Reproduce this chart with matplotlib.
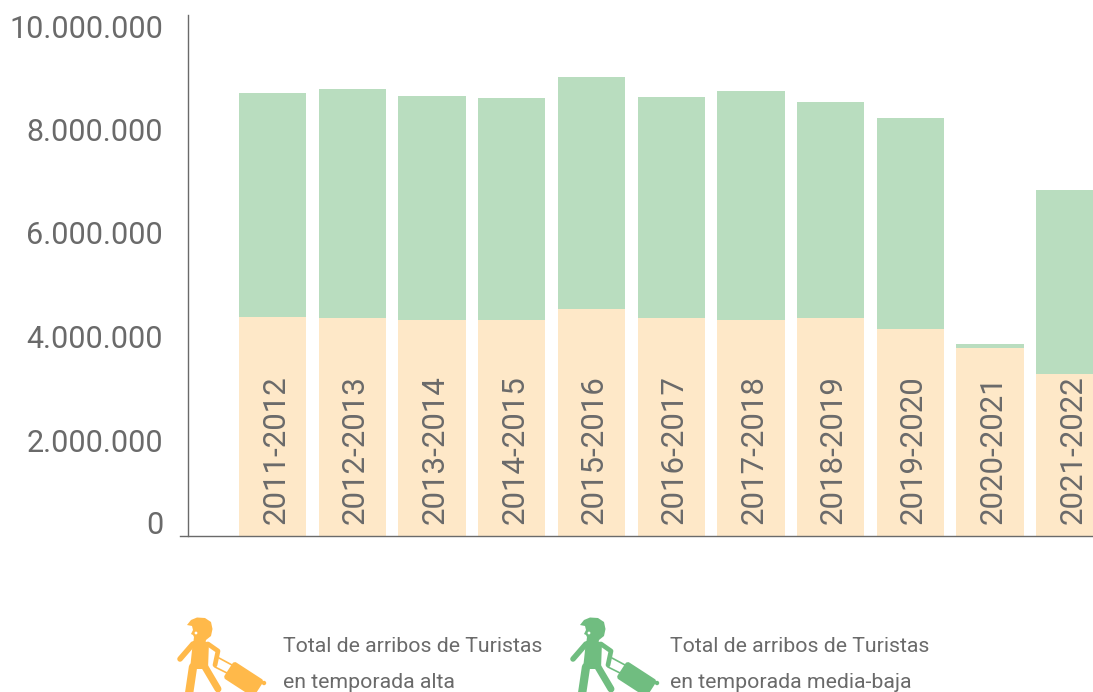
import matplotlib
matplotlib.use("Agg")
import matplotlib.pyplot as plt
from matplotlib.patches import Polygon, Circle, FancyBboxPatch
from matplotlib.transforms import offset_copy, Affine2D

plt.rcParams['font.family'] = ['Roboto', 'DejaVu Sans']

temporadas = ["2011-2012", "2012-2013", "2013-2014", "2014-2015", "2015-2016", "2016-2017",
              "2017-2018", "2018-2019", "2019-2020", "2020-2021", "2021-2022"]
alta = [4222000, 4203000, 4164000, 4164000, 4377000, 4203000,
        4164000, 4203000, 3990000, 3623000, 3121000]
media_baja = [4329000, 4425000, 4329000, 4290000, 4483000, 4270000,
              4425000, 4174000, 4078000, 77000, 3555000]
ticks = [0, 2000000, 4000000, 6000000, 8000000, 10000000]
tick_labels = ["0", "2.000.000", "4.000.000", "6.000.000", "8.000.000", "10.000.000"]

GRIS = '#6a6a6a'
W, H = 1093, 692

fig = plt.figure(figsize=(W / 100, H / 100), dpi=100)
ax = fig.add_axes([0, 0, 1, 1])
ax.axis('off')

# escala: 0 en y=535.5 px, 51.75 px por millon, barras cada 79.7 px
ax.set_xlim((0 - 272.7) / 79.7, (W - 272.7) / 79.7)
ax.set_ylim((535.5 - H) / 51.75e-6, 535.5 / 51.75e-6)

x = list(range(len(temporadas)))
ax.bar(x, alta, width=0.845, color='#fee8c8', zorder=2)
ax.bar(x, media_baja, bottom=alta, width=0.845, color='#b9ddbf', zorder=2)

# ejes
ax.plot([(188 - 272.7) / 79.7] * 2, [0, 10060000], color=GRIS, lw=1.0, zorder=3)
ax.plot([(180 - 272.7) / 79.7, len(temporadas)], [0, 0], color=GRIS, lw=1.0, zorder=3)

# las etiquetas del eje no caen justo sobre su valor
for t, lab in zip(ticks, tick_labels):
    dy = 10 if t == 0 else -11
    tr = offset_copy(ax.transData, fig=fig, x=0, y=dy, units='dots')
    ax.text((163 - 272.7) / 79.7, t, lab, transform=tr, ha='right', va='center',
            fontsize=22, color=GRIS)

for i, t in enumerate(temporadas):
    tr = offset_copy(ax.transData, fig=fig, x=3, y=11, units='dots')
    ax.text(i, 0, t, transform=tr, rotation=90, ha='center', va='bottom',
            fontsize=22.5, color=GRIS, zorder=4)

# leyenda
ley = fig.add_axes([0, 0, 1, 1], facecolor='none')
ley.set_xlim(0, W)
ley.set_ylim(H, 0)
ley.axis('off')


def viajero(x0, color):
    # figura con valija, coordenadas en px relativas al icono naranja
    kw = dict(color=color, solid_capstyle='round', solid_joinstyle='round')
    ley.plot([193 + x0, 180 + x0], [644, 659], lw=4.0, **kw)
    ley.plot([208 + x0, 218 + x0, 215 + x0], [644, 651, 665], lw=3.4, **kw)
    ley.plot([193 + x0, 189 + x0], [667, 694], lw=6.0, **kw)
    ley.plot([205 + x0, 218 + x0], [667, 689], lw=5.0, **kw)
    ley.plot([219 + x0, 232 + x0], [658, 665], lw=1.2, **kw)
    ley.plot([215 + x0, 227 + x0], [667, 673], lw=1.2, **kw)
    ley.add_patch(Polygon([(x0 + a, b) for a, b in [(193, 641), (209, 642), (208, 669), (190, 669)]],
                          closed=True, color=color, lw=0))
    # cabeza y flequillo
    cabeza = [(187, 625), (191, 620), (197, 617.5), (205, 618), (211, 622), (212.5, 629), (211, 636),
              (206, 640), (205, 645), (193, 645), (194, 637), (193, 635), (191, 634), (193, 630), (192, 626)]
    ley.add_patch(Polygon([(x0 + a, b) for a, b in cabeza], closed=True, color=color, lw=0))
    ley.add_patch(Circle((196 + x0, 633), 1.4, color='white', lw=0, zorder=5))
    # valija
    caja = FancyBboxPatch((0, 0), 36, 20, boxstyle="round,pad=0,rounding_size=3", color=color, lw=0,
                          transform=Affine2D().rotate_deg(33).translate(234 + x0, 661) + ley.transData)
    ley.add_patch(caja)
    ley.add_patch(Circle((264 + x0, 683), 2.2, color=color, lw=0))


viajero(0, '#ffb94a')
viajero(393, '#70bd80')

for xt, l1, l2 in [(283, "Total de arribos de Turistas", "en temporada alta"),
                   (670, "Total de arribos de Turistas", "en temporada media-baja")]:
    ley.text(xt, 647, l1, fontsize=15.3, color=GRIS, va='center', ha='left')
    ley.text(xt, 682, l2, fontsize=15.3, color=GRIS, va='center', ha='left')

fig.savefig("out.png", dpi=100)
